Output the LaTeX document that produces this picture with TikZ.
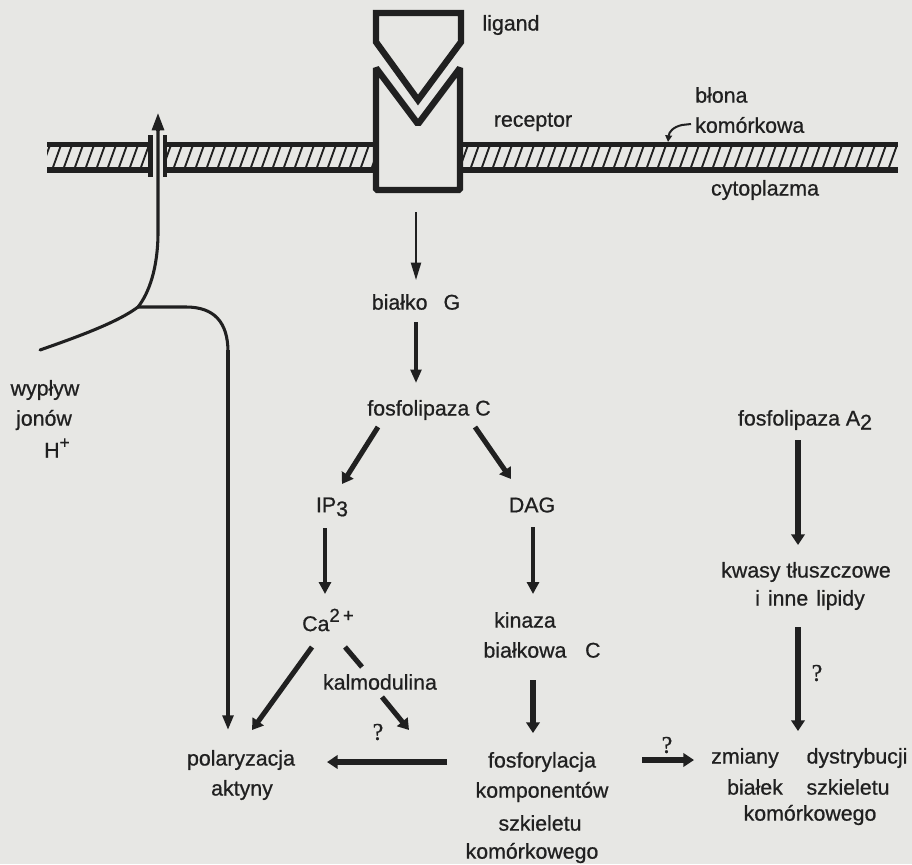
\documentclass[tikz,border=0pt]{standalone}
\usepackage{fontspec}
\setmainfont{Liberation Sans}[FakeBold=0.7]
\newfontfamily\qfont{Liberation Serif}[FakeBold=1]
\usetikzlibrary{arrows.meta}
\definecolor{paper}{RGB}{231,231,228}
\definecolor{ink}{RGB}{32,32,32}
\begin{document}
\begin{tikzpicture}[x=0.75pt,y=-0.75pt,
  lab/.style={font=\fontsize{16}{19}\selectfont, text=ink, inner sep=0pt},
  qm/.style={font=\qfont\fontsize{18}{19}\selectfont, text=ink, inner sep=0pt},
  thinarr/.style={draw=ink, line width=1.5pt, -{Triangle[length=13pt,width=7.5pt]}},
  midarr/.style={draw=ink, line width=2.3pt, -{Triangle[length=10pt,width=8pt]}},
  thickarr/.style={draw=ink, line width=3.8pt, -{Triangle[length=8pt,width=10pt]}},
  thickline/.style={draw=ink, line width=3.8pt},
  ionline/.style={draw=ink, line width=2.3pt, line cap=round},
  memline/.style={draw=ink, line width=3.9pt},
  hatchline/.style={draw=ink, line width=1.4pt},
  shapeline/.style={draw=ink, line width=4.8pt}
]
\fill[paper] (0,0) rectangle (912,864);
\useasboundingbox (0,0) rectangle (912,864);

% membrane hatching
\begin{scope}
  \clip (47,145) rectangle (150,170) (165,145) rectangle (376,170) (460,145) rectangle (898,170);
  \foreach \x in {30,41,...,910} \draw[hatchline] (\x,170) -- (\x+9,145);
\end{scope}
\draw[memline] (47,144.5) -- (150,144.5);
\draw[memline] (47,170) -- (150,170);
\draw[memline] (165,144.5) -- (376,144.5);
\draw[memline] (165,170) -- (376,170);
\draw[memline] (460,144.5) -- (898,144.5);
\draw[memline] (460,170) -- (898,170);
% channel flanges
\draw[draw=ink, line width=3.4pt] (150.5,135) -- (150.5,177);
\draw[draw=ink, line width=3.4pt] (165,135) -- (165,177);

% receptor and ligand
\draw[shapeline, fill=paper, line join=bevel] (376,68) -- (376,190) -- (460,190) -- (460,68) -- (418,124) -- cycle;
\draw[shapeline, line join=miter] (376,13) -- (461,13) -- (461,42) -- (418,100) -- (376,42) -- cycle;

% ion pathway
\coordinate (ionL) at (40,350);
\coordinate (ionJ) at (138,307);
\coordinate (ionTop) at (158,113);
\coordinate (ionR) at (186,307);
\coordinate (polTip) at (228,730);
\draw[ionline] (ionL) .. controls (80,336) and (118,322) .. (ionJ)
   .. controls (149,293) and (158,268) .. (158,232) -- (158,125);
\draw[draw=ink, line width=2.3pt, -{Triangle[length=13pt,width=9pt]}] (158,130) -- (ionTop);
\draw[ionline] (ionJ) -- (ionR) .. controls (214,307) and (228,322) .. (228,352);
\draw[draw=ink, line width=2.6pt, -{Triangle[length=11pt,width=8pt]}] (228,350) -- (polTip);

% labels
\node[lab] (ligand) at (511,25) {ligand};
\node[lab] (receptor) at (533,122) {receptor};
\node[lab, anchor=west] (blona) at (695,95) {błona};
\node[lab, anchor=west] (komorkowa) at (695,125) {komórkowa};
\node[lab] (cyto) at (765,190) {cytoplazma};
\node[lab] (bialkoG) at (416,302) {białko\hspace{12pt}G};
\node[lab] (fosfoC) at (429,410) {fosfolipaza C};
\node[lab] (ip3) at (332,507) {IP\raisebox{-3pt}{3}};
\node[lab] (dag) at (532,505) {DAG};
\node[lab] (ca) at (328,620) {Ca\raisebox{7pt}{\fontsize{14}{15}\selectfont 2\,+}};
\node[lab] (kinaza) at (525,620) {kinaza};
\node[lab] (bialkowaC) at (542,650) {białkowa\hspace{14pt}C};
\node[lab] (kalmod) at (380,682) {kalmodulina};
\node[qm] (q1) at (378,732) {?};
\node[lab] (polar) at (241,760) {polaryzacja};
\node[lab] (aktyny) at (242,790) {aktyny};
\node[lab] (fosfor) at (542,762) {fosforylacja};
\node[lab] (kompon) at (542,792) {komponentów};
\node[lab] (szkiel) at (540,823) {szkieletu};
\node[lab] (komork) at (532,853) {komórkowego};
\node[lab] (fosfoA) at (805,420) {fosfolipaza A\raisebox{-3pt}{2}};
\node[lab] (kwasy) at (806,572) {kwasy tłuszczowe};
\node[lab] (lipidy) at (810,600) {i\hspace{6pt}inne\hspace{6pt}lipidy};
\node[qm] (q2) at (817,673) {?};
\node[qm] (q3) at (667,745) {?};
\node[lab] (zmiany) at (745,758) {zmiany};
\node[lab] (dystr) at (857,758) {dystrybucji};
\node[lab] (bialek) at (755,787) {białek};
\node[lab] (szkiel2) at (848,787) {szkieletu};
\node[lab] (komork2) at (810,815) {komórkowego};
\node[lab] (wyplyw) at (45,390) {wypływ};
\node[lab] (jonow) at (44,420) {jonów};
\node[lab] (hplus) at (57,448) {H\raisebox{7pt}{\fontsize{13}{14}\selectfont +}};

% pointer to membrane
\coordinate (memPt) at (668,142);
\draw[draw=ink, line width=1.5pt, -{Triangle[length=5pt,width=5pt]}] (691,124) -- (682,125) .. controls (673,127) and (669,132) .. (memPt);

% signalling arrows
\coordinate (r1) at (416,212); \coordinate (r2) at (416,280);
\draw[thinarr] (r1) -- (r2);
\coordinate (b1) at (416,322); \coordinate (b2) at (416,383);
\draw[midarr] (b1) -- (b2);
\coordinate (c1) at (378,427); \coordinate (c2) at (342,484);
\draw[thickarr] (c1) -- (c2);
\coordinate (d1) at (475,427); \coordinate (d2) at (511,479);
\draw[thickarr] (d1) -- (d2);
\coordinate (i1) at (325,528); \coordinate (i2) at (325,594);
\draw[draw=ink, line width=3pt, -{Triangle[length=9pt,width=9pt]}] (i1) -- (i2);
\coordinate (g1) at (533,527); \coordinate (g2) at (533,594);
\draw[draw=ink, line width=3pt, -{Triangle[length=9pt,width=9pt]}] (g1) -- (g2);
\coordinate (e1) at (312,647); \coordinate (e2) at (252,730);
\draw[thickarr] (e1) -- (e2);
\coordinate (k1) at (345,647); \coordinate (k2) at (362,667);
\draw[thickline] (k1) -- (k2);
\coordinate (m1) at (382,697); \coordinate (m2) at (409,730);
\draw[thickarr] (m1) -- (m2);
\coordinate (h1) at (447,762); \coordinate (h2) at (327,762);
\draw[thickarr] (h1) -- (h2);
\coordinate (n1) at (533,680); \coordinate (n2) at (533,733);
\draw[thickarr] (n1) -- (n2);
\coordinate (p1) at (798,440); \coordinate (p2) at (798,545);
\draw[thickarr] (p1) -- (p2);
\coordinate (s1) at (798,627); \coordinate (s2) at (798,731);
\draw[thickarr] (s1) -- (s2);
\coordinate (z1) at (642,760); \coordinate (z2) at (694,760);
\draw[thickarr] (z1) -- (z2);
\end{tikzpicture}
\end{document}
